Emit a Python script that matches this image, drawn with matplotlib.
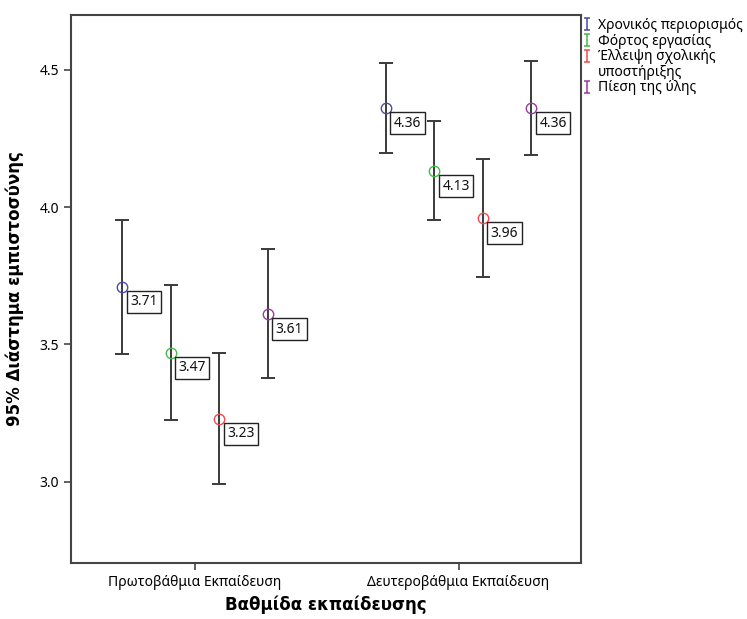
import matplotlib
matplotlib.use("Agg")
import matplotlib.pyplot as plt
import numpy as np
from matplotlib.path import Path
from matplotlib.lines import Line2D

plt.rcParams['font.family'] = ['Noto Sans', 'DejaVu Sans']

categories = ["Πρωτοβάθμια Εκπαίδευση", "Δευτεροβάθμια Εκπαίδευση"]
series = ["Χρονικός περιορισμός", "Φόρτος εργασίας", "Έλλειψη σχολικής\nυποστήριξης", "Πίεση της ύλης"]
colors = ["#4b4ba3", "#45b94a", "#f24a4f", "#9a3aa0"]

means = [[3.71, 4.36], [3.47, 4.13], [3.23, 3.96], [3.61, 4.36]]
lower = [[3.466, 4.196], [3.223, 3.952], [2.993, 3.746], [3.376, 4.191]]
upper = [[3.954, 4.525], [3.718, 4.312], [3.467, 4.176], [3.847, 4.531]]
labels = [["3.71", "4.36"], ["3.47", "4.13"], ["3.23", "3.96"], ["3.61", "4.36"]]

yticks = [3.0, 3.5, 4.0, 4.5]

fig = plt.figure(figsize=(7.47, 6.19), dpi=100)
ax = fig.add_axes([0.095, 0.0905, 0.683, 0.8855])

offsets = [-1.5, -0.5, 0.5, 1.5]
step = 0.184
xbase = np.arange(len(categories))
for i in range(len(series)):
    x = xbase + offsets[i] * step
    m = np.array(means[i]); lo = np.array(lower[i]); up = np.array(upper[i])
    ax.errorbar(x, m, yerr=[m - lo, up - m], fmt='none', ecolor='#3a3a3a',
                elinewidth=1.4, capsize=4.8, capthick=1.4, zorder=2)
    ax.plot(x, m, 'o', ms=7.5, mfc='none', mec=colors[i], mew=1.0, zorder=3)
    for xi, mi, lab in zip(x, m, labels[i]):
        ax.annotate(lab, (xi, mi), xytext=(8, -15), textcoords='offset pixels',
                    ha='left', va='center', fontsize=10, color='#111111',
                    bbox=dict(boxstyle='square,pad=0.25', fc='white', ec='#222222', lw=1.0),
                    zorder=4)

ax.set_xlim(-0.47, 1.465)
ax.set_ylim(2.704, 4.70)
ax.set_xticks(xbase)
ax.set_xticklabels(categories, fontsize=10)
ax.set_yticks(yticks)
ax.set_yticklabels([f"{v:.1f}" for v in yticks], fontsize=10)
ax.tick_params(axis='both', length=5, width=1.2, color='#444444', direction='out')
for s in ax.spines.values():
    s.set_color('#444444')
    s.set_linewidth(1.5)

ax.set_ylabel("95% Διάστημα εμπιστοσύνης", fontsize=12, fontweight='bold',
              family='DejaVu Sans', labelpad=11)
ax.set_xlabel("Βαθμίδα εκπαίδευσης", fontsize=12, fontweight='bold',
              family='DejaVu Sans', labelpad=4)

ibar = Path([(-0.5, 1), (0.5, 1), (0, 1), (0, -1), (-0.5, -1), (0.5, -1)],
            [Path.MOVETO, Path.LINETO, Path.MOVETO, Path.LINETO, Path.MOVETO, Path.LINETO])
handles = []
leg_labels = []
for c, s in zip(colors, series):
    parts = s.split("\n")
    handles.append(Line2D([], [], linestyle='none', marker=ibar, ms=9, mfc='none',
                          mec=c, mew=1.1))
    leg_labels.append(parts[0])
    for p in parts[1:]:
        handles.append(Line2D([], [], linestyle='none', marker=None))
        leg_labels.append(p)
fig.legend(handles, leg_labels, loc='upper left', bbox_to_anchor=(0.775, 0.975),
           frameon=False, fontsize=10, handlelength=0.7, handletextpad=0.45,
           labelspacing=0.04, borderaxespad=0, borderpad=0.2)

fig.savefig("out.png", dpi=100, facecolor='white')
